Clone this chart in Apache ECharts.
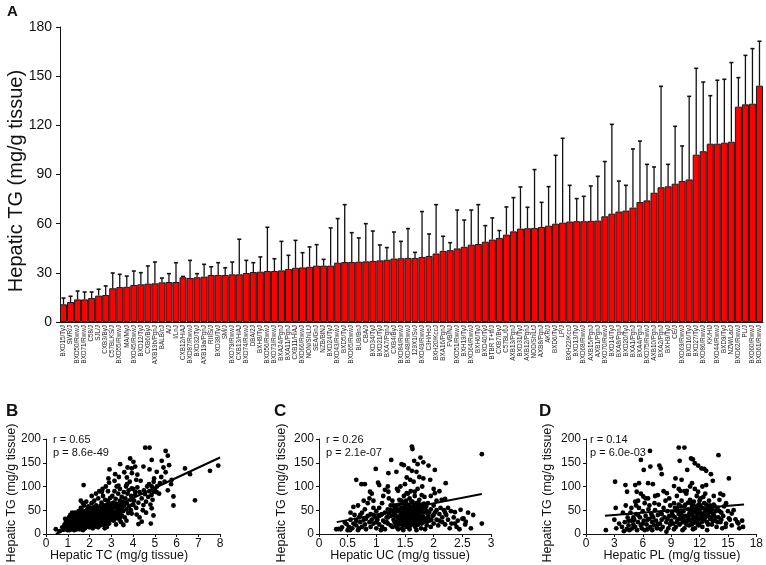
<!DOCTYPE html>
<html>
<head>
<meta charset="utf-8">
<script src="https://cdn.jsdelivr.net/npm/echarts@6/dist/echarts.min.js"></script>
<style>html,body{margin:0;padding:0;background:#fff}#c{width:766px;height:565px}</style>
</head>
<body>
<div id="c"></div>
<script>
// ---------- Panel A data ----------
const strains = ["BXD15/TyJ","SWR/J","BXD50/RwwJ","BXD71/RwwJ","C58/J","SJL/J","CXB3/ByJ","C57BLKS/J","BXD55/RwwJ","MA/MyJ",
"BXD45/RwwJ","BXD12/TyJ","CXB6/ByJ","AXB19b/PgnJ","BALB/cJ","A/J","I/LnJ","CXB12/HiAJ","BXD87/RwwJ","BXD32/TyJ",
"AXB19a/PgnJ","RIIIS/J","BXD38/TyJ","SM/J","BXD79/RwwJ","CXB13/HiAJ","BXD74/RwwJ","DBA/2J","BXH8/TyJ","BXD56/RwwJ",
"BXD73/RwwJ","BXA24/PgnJ","BXA11/PgnJ","CXB11/HiAJ","BXD66/RwwJ","NON/ShiLtJ","SEA/GnJ","NZB/BlNJ","BXD24/TyJ","BXD43/RwwJ",
"BXD5/TyJ","BXD65/RwwJ","BUB/BnJ","CBA/J","BXD34/TyJ","BXD21/TyJ","BXA7/PgnJ","CXB4/ByJ","BXD84/RwwJ","BXD48/RwwJ",
"129X1/SvJ","BXD49/RwwJ","C3H/HeJ","BXH20/KccJ","BXA16/PgnJ","FVB/NJ","BXD51/RwwJ","BXH19/TyJ","BXD64/RwwJ","BXH6/TyJ",
"BXD40/TyJ","BTBR T+tf/J","CXB7/ByJ","C57BL/6J","AXB13/PgnJ","BXD31/TyJ","AXB12/PgnJ","NOD/ShiLtJ","AXB8/PgnJ","AKR/J",
"BXD6/TyJ","LP/J","BXH22/KccJ","BXD13/TyJ","BXD68/RwwJ","AXB15/PgnJ","AXB1/PgnJ","BXD70/RwwJ","BXD14/TyJ","BXA8/PgnJ",
"BXD20/TyJ","BXA1/PgnJ","BXA4/PgnJ","BXD75/RwwJ","AXB10/PgnJ","BXA2/PgnJ","BXH9/TyJ","CE/J","BXD69/RwwJ","BXD16/TyJ",
"BXD27/TyJ","BXD86/RwwJ","KK/HlJ","BXD44/RwwJ","BXD9/TyJ","NZW/LacJ","BXD62/RwwJ","PL/J","BXD60/RwwJ","BXD61/RwwJ"];
const tgMean = [10.8,12.2,13.8,13.8,14.6,16.1,16.5,20.6,21.3,21.5,
22.6,23.0,23.4,23.6,24.2,24.4,24.4,27.3,26.9,27.3,
27.7,28.7,28.7,28.7,29.1,29.1,29.9,30.5,30.7,31.1,
31.1,31.5,32.3,33.1,33.3,33.7,34.4,34.4,34.4,36.2,
36.6,36.6,36.8,37.0,37.2,37.6,38.0,38.7,38.9,39.1,
39.1,39.7,40.3,41.8,43.4,43.8,44.9,45.9,47.2,47.6,
49.0,50.3,51.3,53.3,55.3,57.0,57.2,57.4,58.0,58.8,
60.0,60.6,61.3,61.5,61.5,61.7,61.9,64.5,66.1,67.4,
68.0,69.8,73.2,74.2,78.9,82.2,82.8,84.4,86.0,87.0,
102.1,104.2,108.8,108.8,109.4,110.0,131.4,132.8,133.2,144.2];
const tgErrTop = [14.6,15.7,18.9,18.3,18.3,20.0,22.0,29.9,29.1,28.0,
31.1,30.1,34.2,36.6,26.8,29.5,36.2,27.8,37.6,29.5,
35.2,33.7,36.2,33.1,36.6,50.5,37.6,36.2,39.7,57.8,
38.6,49.2,40.7,49.8,42.3,45.8,47.2,38.2,57.4,63.1,
71.6,54.5,51.3,60.0,55.5,47.0,45.4,54.9,49.2,57.0,
42.5,67.4,53.7,71.6,52.3,48.4,68.3,62.2,68.3,71.6,
58.8,63.5,55.8,70.2,75.9,82.4,70.0,93.0,73.0,82.6,
101.7,112.1,83.4,75.3,76.7,83.0,88.9,97.9,120.6,86.0,
83.4,105.6,110.4,96.2,94.6,143.8,96.2,119.4,107.4,137.7,
154.8,146.4,138.1,147.5,148.1,158.3,149.1,162.7,166.8,171.3];
const tgTicks = [0,30,60,90,120,150,180];

// ---------- Panel B: TC vs TG ----------
const tcTg = [
[4.56,181.8],[4.76,181.8],[5.5,175],[5.6,165],[3.87,159],[4.02,152],[4.86,156],[5.32,154],[5.4,140],[5.66,145],
[4.48,142],[4.1,142],[3.94,138],[3.41,147],[2.92,136],[3.18,126],[3.72,119],[2.87,117],[4.15,114],[4.76,136],
[4.97,117],[5.09,131],[1.73,103],[2.57,89],[3.33,102],[3.72,105],[3.94,96],[4.1,89],[4.74,105],[4.86,100],
[4.94,89],[5.09,88],[5.24,107],[5.78,114],[6.39,138],[6.62,126],[7.54,133],[7.92,144],[5.86,79],[5.86,60],
[6.85,71],[4.48,61],[4.86,54],[4.94,39],[4.25,21],[4.4,26],[4.82,22],[3.56,19],[3.94,43],[4.17,41],[3.26,43],[4.02,61],
[0.45,10],[0.62,6],[0.75,14],[0.8,9],[0.85,20],[0.9,12],[0.92,26],[0.95,17],[0.98,8],[1.0,30],[0.88,32],
[1.02,12],[1.05,20],[1.05,35],[1.08,8],[1.1,25],[1.1,15],[1.12,40],[1.15,10],[1.15,30],[1.18,18],[1.2,22],[1.2,45],
[1.22,12],[1.25,28],[1.25,35],[1.28,16],[1.3,20],[1.3,8],[1.32,38],[1.35,25],[1.35,14],[1.38,30],[1.4,18],[1.4,42],
[1.42,10],[1.45,26],[1.45,33],[1.48,20],[1.5,15],[1.5,48],[1.05,28],[1.15,22],[1.25,18],[1.35,45],[1.45,12],
[1.52,24],[1.55,30],[1.55,10],[1.58,40],[1.6,18],[1.6,55],[1.62,28],[1.65,14],[1.65,35],[1.68,22],[1.7,44],[1.7,8],
[1.72,30],[1.75,20],[1.75,60],[1.78,26],[1.8,38],[1.8,12],[1.82,48],[1.85,22],[1.85,32],[1.88,16],[1.9,28],[1.9,52],
[1.92,40],[1.95,20],[1.95,35],[1.98,25],[2.0,45],[2.0,14],[1.6,70],[1.7,65],[1.85,68],[1.55,48],[1.65,50],[1.95,58],
[1.8,28],[1.7,36],[1.6,24],
[2.02,30],[2.05,22],[2.05,55],[2.08,38],[2.1,18],[2.1,65],[2.12,28],[2.15,42],[2.15,12],[2.18,34],[2.2,50],[2.2,24],
[2.22,70],[2.25,30],[2.25,16],[2.28,45],[2.3,36],[2.3,60],[2.32,20],[2.35,28],[2.35,52],[2.38,40],[2.4,14],[2.4,75],
[2.42,32],[2.45,48],[2.45,22],[2.48,58],[2.5,38],[2.5,26],[2.1,80],[2.3,85],[2.45,90],[2.2,40],[2.35,34],
[2.52,44],[2.55,30],[2.55,66],[2.58,20],[2.6,52],[2.6,38],[2.62,80],[2.65,28],[2.65,60],[2.68,46],[2.7,35],[2.7,18],
[2.72,72],[2.75,55],[2.75,40],[2.78,25],[2.8,62],[2.8,48],[2.82,32],[2.85,90],[2.85,70],[2.88,42],[2.9,56],[2.9,22],
[2.92,36],[2.95,76],[2.95,50],[2.98,30],[3.0,64],[3.0,44],[2.6,95],[2.75,100],[2.9,108],[2.7,12],[2.8,15],
[3.02,38],[3.05,55],[3.05,80],[3.1,28],[3.1,66],[3.12,46],[3.15,90],[3.15,35],[3.2,58],[3.2,74],[3.22,20],[3.25,48],
[3.25,100],[3.3,62],[3.3,40],[3.32,85],[3.35,52],[3.38,30],[3.4,70],[3.4,95],[3.42,45],[3.45,60],[3.48,78],[3.5,38],
[3.5,55],[3.15,112],[3.35,120],[3.45,25],
[3.52,68],[3.55,48],[3.58,88],[3.6,60],[3.62,35],[3.65,75],[3.68,100],[3.7,52],[3.72,65],[3.75,85],[3.78,44],[3.8,92],
[3.82,58],[3.85,110],[3.88,72],[3.9,50],[3.92,80],[3.95,128],[3.98,62],[4.0,95],[3.6,130],[3.75,140],[3.7,28],
[4.05,70],[4.1,82],[4.15,55],[4.2,98],[4.25,66],[4.3,88],[4.35,112],[4.4,75],[4.45,50],[4.5,92],[4.55,84],[4.6,68],
[4.65,100],[4.7,78],[4.75,90],[4.8,62],[4.85,82],[4.9,72],[4.95,110],[5.0,95],[4.3,35],[4.6,45],[4.2,125],
[5.1,100],[5.2,85],[5.3,120],[5.45,110],[5.6,92],[5.75,105],[5.5,130],
[1.1,32],[1.15,38],[1.2,28],[1.22,34],[1.28,24],[1.3,44],[1.33,12],[1.38,22],[1.42,36],[1.48,28],[1.52,36],[1.55,18],
[1.58,26],[1.62,42],[1.66,30],[1.68,38],[1.72,16],[1.74,26],[1.78,34],[1.82,20],[1.84,42],[1.88,30],[1.9,36],[1.94,24],
[1.98,44],[2.02,20],[2.04,36],[2.08,26],[2.1,48],[2.12,34],[2.16,22],[2.18,56],[2.22,30],[2.24,38],[2.26,24],[2.3,42],
[2.34,16],[2.36,46],[2.4,30],[2.42,54],[2.44,38],[2.48,18],[2.5,44],[2.52,30],[2.56,36],[2.58,50],[2.62,24],[2.64,42],
[2.66,34],[2.7,52],[2.74,30],[2.76,46],[2.8,38],[2.84,56],[2.86,26],[2.9,44],[2.94,32],[2.96,60],[3.0,36],[3.04,48],
[3.08,40],[3.12,56],[3.14,30],[3.18,44],[3.22,64],[3.26,34],[3.3,52],[3.34,44],[3.38,58],[3.42,36],[3.46,50],[3.5,66],
[1.4,26],[1.6,32],[1.7,20],[1.8,44],[2.0,32],[2.2,34],[2.4,22],[2.6,32],[2.8,20],[1.3,14],[1.5,22],[1.9,18],[2.3,26],[2.7,26]];
const tcFit = [[0.45,0],[8.0,161]];

// ---------- Panel C: UC vs TG ----------
const ucTg = [
[1.62,184],[1.63,179],[2.84,168],[1.77,161],[1.26,156],[1.44,147],[1.48,145],[1.66,154],[1.72,147],[1.91,144],
[1.82,151],[0.99,137],[1.21,128],[1.35,131],[1.56,138],[1.62,133],[1.7,131],[2.02,135],[0.65,114],[0.74,105],
[0.8,105],[1.03,108],[1.05,103],[1.53,119],[1.59,114],[1.82,117],[1.94,114],[2.21,107],[0.89,89],[0.92,85],
[1.15,93],[1.21,89],[1.38,91],[1.53,86],[1.67,89],[1.79,82],[2.02,86],[2.14,72],[2.2,74],[0.6,57],
[2.37,46],[2.47,51],[2.69,40],[2.56,26],[2.52,33],[2.31,22],[2.37,22],[2.84,22],[0.34,10.5],[0.48,21],[0.38,10],[0.54,8],
[0.3,10],[0.4,14],[0.45,24],[0.5,8],[0.52,15],[0.55,30],[0.58,12],[0.6,22],[0.62,40],[0.65,18],[0.68,8],[0.55,45],
[0.65,28],[0.7,35],[0.7,12],[0.68,60],
[0.72,25],[0.75,45],[0.75,15],[0.78,30],[0.8,52],[0.8,20],[0.82,10],[0.85,38],[0.85,65],[0.88,25],[0.9,42],[0.9,15],
[0.92,30],[0.95,55],[0.95,22],[0.98,35],[1.0,12],[1.0,48],[0.78,70],[0.88,75],[0.95,70],[0.82,32],[0.72,40],
[1.02,30],[1.05,20],[1.05,55],[1.08,40],[1.1,15],[1.1,65],[1.12,28],[1.15,45],[1.15,10],[1.18,35],[1.2,52],[1.2,22],
[1.22,75],[1.25,38],[1.25,18],[1.28,48],[1.3,30],[1.3,60],[1.12,80],[1.2,100],[1.28,70],[1.08,8],[1.18,25],[1.22,42],
[1.32,25],[1.33,45],[1.35,15],[1.35,60],[1.37,35],[1.38,52],[1.4,20],[1.4,72],[1.42,40],[1.42,30],[1.44,55],[1.45,12],
[1.45,65],[1.46,28],[1.48,48],[1.48,80],[1.5,36],[1.5,22],[1.5,58],[1.52,42],[1.52,70],[1.53,15],[1.54,50],[1.55,32],
[1.55,62],[1.56,26],[1.57,45],[1.58,75],[1.58,38],[1.6,18],[1.6,55],[1.6,90],[1.36,95],[1.42,100],[1.5,105],[1.55,85],
[1.38,10],[1.47,8],[1.58,10],[1.34,38],[1.44,46],[1.52,28],[1.4,50],[1.46,35],
[1.62,30],[1.62,48],[1.63,68],[1.64,40],[1.65,22],[1.65,58],[1.66,35],[1.67,80],[1.68,45],[1.68,15],[1.7,52],[1.7,28],
[1.7,65],[1.72,38],[1.72,95],[1.73,20],[1.74,56],[1.75,42],[1.75,72],[1.76,30],[1.78,50],[1.78,12],[1.8,62],[1.8,36],
[1.82,45],[1.82,25],[1.84,78],[1.85,55],[1.86,32],[1.88,48],[1.88,18],[1.9,40],[1.9,65],[1.65,110],[1.75,120],[1.8,100],
[1.7,8],[1.85,10],[1.66,46],[1.74,34],
[1.92,28],[1.95,52],[1.95,15],[1.98,38],[2.0,60],[2.0,22],[2.02,45],[2.05,30],[2.05,70],[2.08,18],[2.1,42],[2.12,55],
[2.15,25],[2.15,35],[2.18,50],[2.2,20],[2.22,40],[2.25,30],[2.28,12],[2.3,48],[2.0,95],[2.1,90],[1.95,80],
[2.35,35],[2.4,15],[2.42,28],[2.45,10],[2.5,32],[2.55,20],[2.6,45],[2.65,12],
[1.3,40],[1.32,55],[1.34,20],[1.36,48],[1.38,28],[1.4,62],[1.41,34],[1.43,24],[1.44,70],[1.46,42],[1.47,18],[1.48,56],
[1.49,30],[1.5,46],[1.51,64],[1.53,36],[1.54,24],[1.55,52],[1.56,40],[1.57,20],[1.58,60],[1.59,30],[1.6,44],[1.61,68],
[1.62,38],[1.63,26],[1.64,54],[1.66,62],[1.67,28],[1.68,36],[1.69,58],[1.7,42],[1.71,20],[1.72,48],[1.73,66],[1.74,26],
[1.76,44],[1.77,60],[1.78,32],[1.79,22],[1.8,54],[1.82,36],[1.83,64],[1.84,28],[1.86,46],[1.87,58],[1.88,26],[1.9,34],
[1.2,35],[1.25,60],[1.1,42],[1.15,25],[1.05,38],[0.95,40],[1.0,25],[1.25,50],[1.28,15],[1.92,46],[1.96,30],[2.0,40],
[2.05,50],[2.1,28],[2.2,45],[2.25,55]];
const ucFit = [[0.31,25],[2.84,84]];

// ---------- Panel D: PL vs TG ----------
const plTg = [
[9.8,182],[10.4,182],[6.76,175],[5.8,156],[9.9,154],[11.1,159],[11.3,157],[11.5,149],[11.85,144],[14.0,166],
[6.1,135],[6.8,142],[7.75,144],[7.9,138],[8.0,126],[10.7,135],[12.2,138],[12.5,137],[12.7,133],[13.2,126],
[15.1,117],[3.07,110],[4.17,103],[5.2,103],[5.6,107],[6.56,107],[7.07,105],[9.3,101],[9.46,117],[10.1,114],
[11.2,107],[12.7,103],[13.4,112],[4.34,89],[5.36,89],[6.05,79],[6.56,75],[7.24,65],[7.6,82],[8.54,86],
[9.97,91],[10.65,91],[11.85,89],[14.5,82],[3.14,55],[5.2,68],[16.1,22],[16.6,15],[15.8,31],[14.75,15],[15.4,43],[15.1,33],
[2.1,8],[3.0,30],[3.2,12],[3.5,22],[3.8,15],[4.0,6],[4.1,25],[4.3,10],[4.4,35],[4.5,18],[4.6,8],[4.7,45],
[4.8,28],[4.9,12],[5.0,20],[4.2,60],[3.9,45],[4.8,55],
[5.1,30],[5.2,15],[5.3,42],[5.4,8],[5.5,25],[5.6,55],[5.7,35],[5.8,18],[5.9,12],[6.0,48],[6.1,28],[6.2,65],
[6.3,38],[6.4,20],[6.5,10],[6.6,52],[6.7,32],[6.8,15],[6.9,42],[7.0,25],[5.5,70],[6.3,75],[5.8,85],[6.7,60],
[6.2,8],[5.3,60],
[7.1,35],[7.2,18],[7.3,50],[7.4,28],[7.5,12],[7.6,40],[7.7,62],[7.8,22],[7.9,45],[8.0,30],[8.1,15],[8.2,55],
[8.3,35],[8.4,70],[8.5,25],[8.6,48],[8.7,12],[8.8,38],[8.9,60],[9.0,28],[7.3,80],[8.2,90],[8.8,75],[7.0,8],
[7.9,10],[8.5,5],
[9.1,45],[9.2,22],[9.3,65],[9.4,35],[9.5,15],[9.5,50],[9.6,80],[9.7,30],[9.8,42],[9.9,20],[10.0,58],[10.0,35],
[10.1,70],[10.2,25],[10.3,48],[10.4,12],[10.5,62],[10.5,38],[10.6,85],[10.7,28],[10.8,52],[10.9,18],[11.0,44],[11.0,72],
[9.3,10],[10.2,8],[9.8,95],[10.4,90],[11.0,100],[9.6,55],[10.8,36],
[11.1,30],[11.2,58],[11.2,20],[11.3,45],[11.4,68],[11.4,35],[11.5,12],[11.6,52],[11.7,80],[11.7,28],[11.8,40],[11.9,62],
[12.0,22],[12.0,48],[12.1,75],[12.2,35],[12.2,55],[12.3,15],[12.4,42],[12.5,65],[12.5,30],[12.6,85],[12.7,50],[12.8,25],
[12.9,38],[13.0,58],[13.0,70],[11.5,95],[12.3,100],[11.3,10],[12.8,8],[11.9,18],[12.4,78],
[13.1,32],[13.2,50],[13.3,20],[13.4,42],[13.5,62],[13.6,28],[13.7,48],[13.8,15],[13.9,55],[14.0,35],[14.1,72],[14.2,25],
[14.3,45],[14.4,12],[14.5,38],[14.6,58],[14.8,22],[15.0,48],[13.5,80],[14.2,85],[14.8,65],
[15.2,30],[15.4,18],[15.6,50],[16.0,25],[16.2,12],[16.5,28],
[9.2,38],[9.4,55],[9.6,25],[9.8,62],[10.0,45],[10.2,32],[10.4,58],[10.6,20],[10.8,66],[11.0,28],[11.1,50],[11.2,40],
[11.3,62],[11.4,24],[11.5,46],[11.6,36],[11.7,58],[11.8,20],[11.9,48],[12.0,32],[12.1,60],[12.2,42],[12.3,26],[12.4,54],
[12.5,45],[12.6,35],[12.7,62],[12.8,40],[12.9,20],[13.0,46],[13.1,60],[13.2,35],[13.3,52],[13.4,28],[13.5,40],[13.7,35],
[13.9,25],[14.1,48],[10.1,40],[10.9,42],[11.5,30],[12.0,70],[12.6,45],[9.9,32],[8.6,32],[8.0,42],[7.6,20],[7.0,38],
[6.5,30],[6.0,22],[5.5,40],[5.0,35],[4.5,28],[8.9,20],[9.7,48],[10.5,28],[11.1,65],[12.9,52],[13.6,58],[14.3,30]];
const plFit = [[2.0,38.6],[16.7,62]];

const panelStats = [
  {r: "r = 0.65", p: "p = 8.6e-49"},
  {r: "r = 0.26", p: "p = 2.1e-07"},
  {r: "r = 0.14", p: "p = 6.0e-03"}
];

// ---------- Chart ----------
const FONT = "Liberation Sans, Arial, sans-serif";
const INK = "#111";
const chart = echarts.init(document.getElementById('c'), null, {renderer: 'canvas'});

function valAxis(grid, min, max, interval, extra) {
  return Object.assign({
    type: 'value', gridIndex: grid, min: min, max: max, interval: interval,
    axisLine: {show: true, lineStyle: {color: INK, width: 1}},
    axisTick: {show: true, inside: false, length: 3, lineStyle: {color: INK}},
    axisLabel: {color: INK, fontSize: 12, fontFamily: FONT, margin: 5},
    splitLine: {show: false}
  }, extra || {});
}
const dot = {color: '#000', opacity: 1};

const option = {
  animation: false,
  backgroundColor: '#fff',
  grid: [
    {left: 60, top: 27, width: 703, height: 295},
    {left: 46, top: 439, width: 174, height: 95},
    {left: 319, top: 439, width: 172, height: 95},
    {left: 586, top: 439, width: 176, height: 95}
  ],
  xAxis: [
    {type: 'category', gridIndex: 0, data: strains, boundaryGap: true,
     axisLine: {show: true, lineStyle: {color: INK, width: 1}},
     axisTick: {show: false},
     axisLabel: {interval: 0, rotate: 90, fontSize: 6.3, color: '#222', fontFamily: FONT, margin: 3}},
    valAxis(1, 0, 8, 1, {axisLabel: {color: INK, fontSize: 12, fontFamily: FONT, margin: 4}}),
    valAxis(2, 0, 3, 0.5, {axisLabel: {color: INK, fontSize: 12, fontFamily: FONT, margin: 4}}),
    valAxis(3, 0, 18, 3, {axisLabel: {color: INK, fontSize: 12, fontFamily: FONT, margin: 4}})
  ],
  yAxis: [
    valAxis(0, tgTicks[0], tgTicks[tgTicks.length - 1], tgTicks[1] - tgTicks[0],
      {axisLabel: {color: INK, fontSize: 14, fontFamily: FONT, margin: 8}, axisTick: {show: true, length: 4, lineStyle: {color: INK}}}),
    valAxis(1, 0, 200, 50),
    valAxis(2, 0, 200, 50),
    valAxis(3, 0, 200, 50)
  ],
  series: [
    {type: 'bar', xAxisIndex: 0, yAxisIndex: 0, data: tgMean, barCategoryGap: '0%',
     itemStyle: {color: '#ff0000', borderColor: '#1a1a1a', borderWidth: 1}, z: 2},
    {type: 'custom', xAxisIndex: 0, yAxisIndex: 0, z: 3,
     data: tgMean.map((v, i) => [i, v, tgErrTop[i]]),
     encode: {x: 0, y: [1, 2]},
     renderItem: function (params, api) {
       const i = api.value(0);
       const p0 = api.coord([i, api.value(1)]);
       const p1 = api.coord([i, api.value(2)]);
       return {type: 'group', children: [
         {type: 'line', shape: {x1: p0[0], y1: p0[1], x2: p1[0], y2: p1[1]}, style: {stroke: '#111', lineWidth: 1.3}},
         {type: 'line', shape: {x1: p1[0] - 2, y1: p1[1], x2: p1[0] + 2, y2: p1[1]}, style: {stroke: '#111', lineWidth: 1.6}}
       ]};
     }},
    {type: 'scatter', xAxisIndex: 1, yAxisIndex: 1, data: tcTg, symbolSize: 4.8, itemStyle: dot},
    {type: 'line', xAxisIndex: 1, yAxisIndex: 1, data: tcFit, symbol: 'none', lineStyle: {color: '#000', width: 2}, z: 4},
    {type: 'scatter', xAxisIndex: 2, yAxisIndex: 2, data: ucTg, symbolSize: 4.8, itemStyle: dot},
    {type: 'line', xAxisIndex: 2, yAxisIndex: 2, data: ucFit, symbol: 'none', lineStyle: {color: '#000', width: 2}, z: 4},
    {type: 'scatter', xAxisIndex: 3, yAxisIndex: 3, data: plTg, symbolSize: 4.8, itemStyle: dot},
    {type: 'line', xAxisIndex: 3, yAxisIndex: 3, data: plFit, symbol: 'none', lineStyle: {color: '#000', width: 2}, z: 4}
  ],
  graphic: [
    {type: 'text', left: 7, top: 4, style: {text: 'A', font: 'bold 15px ' + FONT, fill: INK}},
    {type: 'text', left: 6, top: 403, style: {text: 'B', font: 'bold 17px ' + FONT, fill: INK}},
    {type: 'text', left: 274, top: 403, style: {text: 'C', font: 'bold 17px ' + FONT, fill: INK}},
    {type: 'text', left: 539, top: 403, style: {text: 'D', font: 'bold 17px ' + FONT, fill: INK}},
    {type: 'text', x: 16, y: 181, rotation: Math.PI / 2,
     style: {text: 'Hepatic TG (mg/g tissue)', font: '20px ' + FONT, fill: INK, align: 'center', verticalAlign: 'middle'}},
    {type: 'text', x: 12, y: 493, rotation: Math.PI / 2,
     style: {text: 'Hepatic TG (mg/g tissue)', font: '12.5px ' + FONT, fill: INK, align: 'center', verticalAlign: 'middle'}},
    {type: 'text', x: 282, y: 493, rotation: Math.PI / 2,
     style: {text: 'Hepatic TG (mg/g tissue)', font: '12.5px ' + FONT, fill: INK, align: 'center', verticalAlign: 'middle'}},
    {type: 'text', x: 548, y: 493, rotation: Math.PI / 2,
     style: {text: 'Hepatic TG (mg/g tissue)', font: '12.5px ' + FONT, fill: INK, align: 'center', verticalAlign: 'middle'}},
    {type: 'text', x: 119, y: 556, style: {text: 'Hepatic TC (mg/g tissue)', font: '12.5px ' + FONT, fill: INK, align: 'center', verticalAlign: 'middle'}},
    {type: 'text', x: 400, y: 556, style: {text: 'Hepatic UC (mg/g tissue)', font: '12.5px ' + FONT, fill: INK, align: 'center', verticalAlign: 'middle'}},
    {type: 'text', x: 672, y: 556, style: {text: 'Hepatic PL (mg/g tissue)', font: '12.5px ' + FONT, fill: INK, align: 'center', verticalAlign: 'middle'}},
    {type: 'text', x: 53, y: 440, style: {text: panelStats[0].r, font: '11px ' + FONT, fill: INK, verticalAlign: 'middle'}},
    {type: 'text', x: 53, y: 453, style: {text: panelStats[0].p, font: '11px ' + FONT, fill: INK, verticalAlign: 'middle'}},
    {type: 'text', x: 326, y: 440, style: {text: panelStats[1].r, font: '11px ' + FONT, fill: INK, verticalAlign: 'middle'}},
    {type: 'text', x: 326, y: 453, style: {text: panelStats[1].p, font: '11px ' + FONT, fill: INK, verticalAlign: 'middle'}},
    {type: 'text', x: 590, y: 440, style: {text: panelStats[2].r, font: '11px ' + FONT, fill: INK, verticalAlign: 'middle'}},
    {type: 'text', x: 590, y: 453, style: {text: panelStats[2].p, font: '11px ' + FONT, fill: INK, verticalAlign: 'middle'}}
  ]
};
chart.setOption(option);
</script>
</body>
</html>
